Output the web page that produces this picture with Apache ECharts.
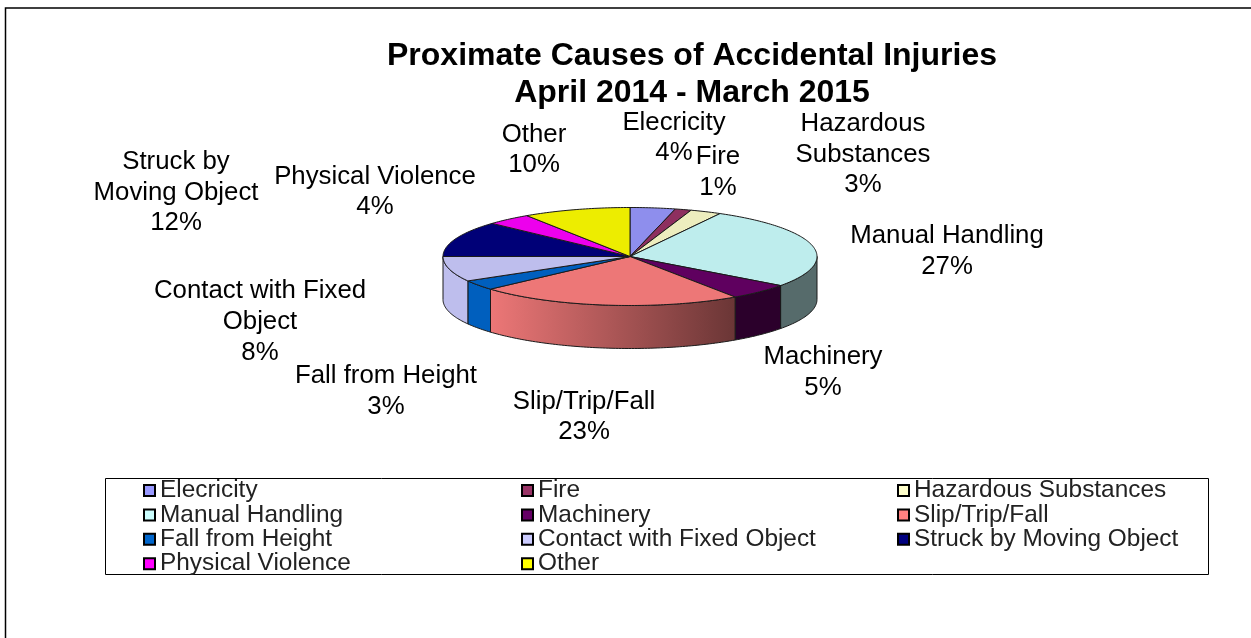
<!DOCTYPE html>
<html>
<head>
<meta charset="utf-8">
<style>html,body{margin:0;padding:0;background:#fff}#c{width:1251px;height:638px}</style>
<script src="https://cdn.jsdelivr.net/npm/echarts@6/dist/echarts.min.js"></script>
</head>
<body>
<div id="c"></div>
<script>
const categories = ['Elecricity','Fire','Hazardous Substances','Manual Handling','Machinery','Slip/Trip/Fall','Fall from Height','Contact with Fixed Object','Struck by Moving Object','Physical Violence','Other'];
const values = [3.9,1.4,2.7,27.1,5.4,22.9,3.3,8.3,11.8,3.9,9.3];
const percentLabels = ['4%','1%','3%','27%','5%','23%','3%','8%','12%','4%','10%'];
const labelNames = ['Elecricity','Fire','Hazardous\nSubstances','Manual Handling','Machinery','Slip/Trip/Fall','Fall from Height','Contact with Fixed\nObject','Struck by\nMoving Object','Physical Violence','Other'];
const colors = ['#9999FF','#993366','#FFFFCC','#CCFFFF','#660066','#FF8080','#0066CC','#CCCCFF','#000080','#FF00FF','#FFFF00'];
const legendColumns = [
  ['Elecricity','Manual Handling','Fall from Height','Physical Violence'],
  ['Fire','Machinery','Contact with Fixed Object','Other'],
  ['Hazardous Substances','Slip/Trip/Fall','Struck by Moving Object']
];
const titleText = 'Proximate Causes of Accidental Injuries\nApril 2014 - March 2015';

// layout
const CX = 630, CY = 256.5, RX = 187, RY = 49, DEPTH = 43;
const labelAnchors = [[674,138],[718,172.5],[863,154.5],[947,251.5],[823,372.5],[584,417],[386,391.5],[260,322],[176,192.5],[375,192],[534,150]];
const legendLefts = [143,521,897];
const FONT = '"Liberation Sans", Arial, sans-serif';

const total = values.reduce((a,b)=>a+b,0);
const starts = []; let acc = 0;
values.forEach(v => { starts.push(acc / total * 360); acc += v; });

function shade(hex, f) {
  const n = parseInt(hex.slice(1),16);
  const c = [n>>16&255,n>>8&255,n&255].map(x=>Math.round(x*f));
  return 'rgb('+c.join(',')+')';
}
function pt(deg, dy) {
  const t = deg*Math.PI/180;
  return [CX + RX*Math.sin(t), CY - RY*Math.cos(t) + (dy||0)];
}
function arc(a0, a1, dy) {
  const out = [], n = Math.max(2, Math.ceil(Math.abs(a1-a0)));
  for (let i=0;i<=n;i++) out.push(pt(a0+(a1-a0)*i/n, dy));
  return out;
}
function renderSlice(idx) {
  return function (params, api) {
    const sweep = api.value(0)/total*360, a0 = starts[idx], a1 = a0+sweep;
    const base = colors[idx], children = [];
    const s0 = Math.max(a0,90), s1 = Math.min(a1,270);
    if (s1 > s0) {
      const pts = arc(s0,s1,0).concat(arc(s1,s0,DEPTH));
      children.push({type:'polygon',shape:{points:pts},style:{
        fill:new echarts.graphic.LinearGradient(490,0,734,0,[
          {offset:0,color:shade(base,0.93)},{offset:1,color:shade(base,0.42)}],true),
        stroke:'#1a1a1a',lineWidth:1}});
    }
    children.push({type:'polygon',shape:{points:[[CX,CY]].concat(arc(a0,a1,0))},
      style:{fill:shade(base,0.93),stroke:'#1a1a1a',lineWidth:1}});
    children.push({type:'text',z2:50,style:{
      text:labelNames[idx]+'\n'+percentLabels[idx],x:labelAnchors[idx][0],y:labelAnchors[idx][1],
      align:'center',verticalAlign:'middle',font:'25.8px '+FONT,lineHeight:30.7,fill:'#000'}});
    return {type:'group',children};
  };
}

const chart = echarts.init(document.getElementById('c'),null,{renderer:'canvas'});
chart.setOption({
  animation:false,
  backgroundColor:'#fff',
  title:{text:titleText,left:687,top:32,textAlign:'center',
    textStyle:{fontFamily:FONT,fontWeight:'bold',fontSize:32,lineHeight:37.5,color:'#000'}},
  legend:legendColumns.map((col,i)=>({
    data:col,orient:'vertical',left:legendLefts[i],top:478.5,padding:0,itemGap:0.4,
    itemWidth:11,itemHeight:11,icon:'rect',selectedMode:false,
    itemStyle:{borderColor:'#000',borderWidth:2},
    textStyle:{fontFamily:FONT,fontSize:24.4,lineHeight:24,color:'#222'}
  })),
  graphic:[
    {type:'rect',shape:{x:105.5,y:478.5,width:1103,height:96},style:{fill:'none',stroke:'#000',lineWidth:1},z:-1},
    {type:'polyline',shape:{points:[[5.5,638],[5.5,8],[1251,8]]},style:{fill:'none',stroke:'#000',lineWidth:1.5},z:-1}
  ],
  series:categories.map((name,i)=>({
    type:'custom',name,coordinateSystem:'none',silent:true,
    itemStyle:{color:colors[i]},
    data:[[values[i]]],
    renderItem:renderSlice(i)
  }))
});
</script>
</body>
</html>
